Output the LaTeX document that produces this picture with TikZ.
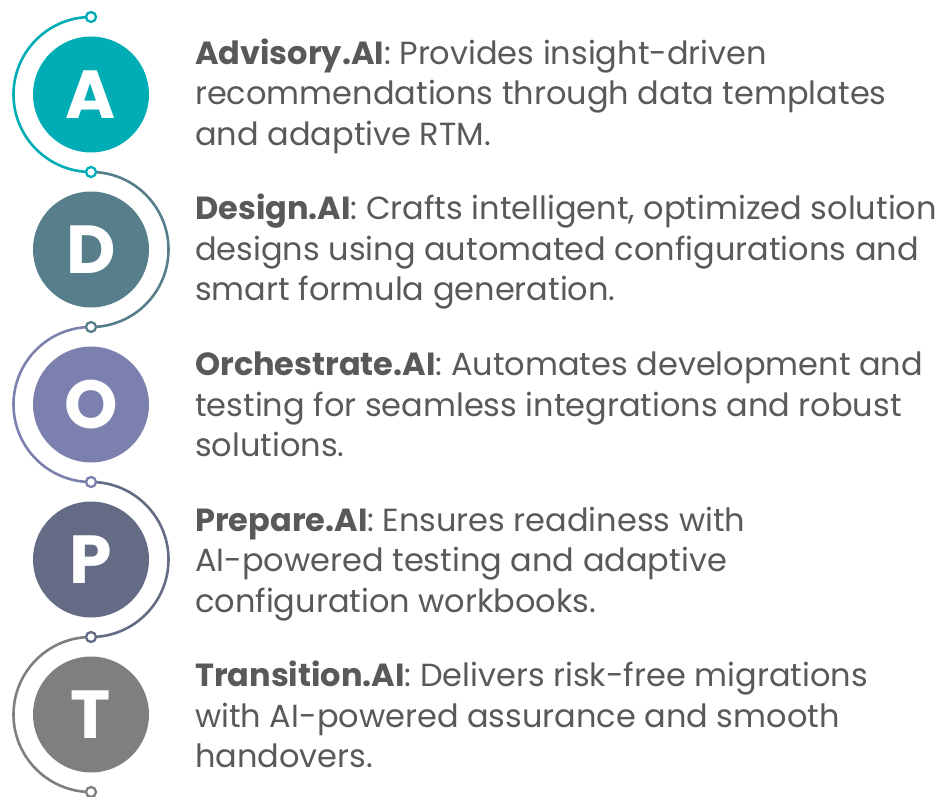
\documentclass[tikz,border=0pt]{standalone}
\usepackage{fontspec}
\setmainfont{Poppins}
\definecolor{cA}{HTML}{00ADB5}
\definecolor{cD}{HTML}{567F8B}
\definecolor{cO}{HTML}{7C80AF}
\definecolor{cP}{HTML}{646B84}
\definecolor{cT}{HTML}{7F7F7F}
\definecolor{body}{HTML}{595959}
\begin{document}
\begin{tikzpicture}[x=1pt,y=1pt,
  disc/.style={circle,minimum size=116pt,inner sep=0pt,text=white,
    font=\fontsize{68}{68}\selectfont\bfseries},
  link/.style={line width=2.6pt},
  knot/.style={circle,draw,fill=white,line width=2.3pt,minimum size=10pt,inner sep=0pt},
  txt/.style={anchor=base west,inner sep=0pt,text=body,font=\fontsize{32}{40}\selectfont}]
\useasboundingbox (0,0) rectangle (939,796);

% letter discs
\node[disc,fill=cA] (A) at (91,701.5) {A};
\node[disc,fill=cD] (D) at (91,546.5) {D};
\node[disc,fill=cO] (O) at (91,391.5) {O};
\node[disc,fill=cP] (P) at (91,236.5) {P};
\node[disc,fill=cT] (T) at (91,81.5) {T};

% joints between the arcs
\coordinate (k0) at (91,779);
\coordinate (k1) at (91,624);
\coordinate (k2) at (91,469);
\coordinate (k3) at (91,314);
\coordinate (k4) at (91,159);
\coordinate (k5) at (91,4);

% alternating half-circle arcs
\draw[link,cA] (k0) arc[start angle=90,end angle=270,radius=77.5];
\draw[link,cD] (k1) arc[start angle=90,end angle=-90,radius=77.5];
\draw[link,cO] (k2) arc[start angle=90,end angle=270,radius=77.5];
\draw[link,cP] (k3) arc[start angle=90,end angle=-90,radius=77.5];
\draw[link,cT] (k4) arc[start angle=90,end angle=270,radius=77.5];

\node[knot,draw=cA] (n0) at (k0) {};
\node[knot,draw=cA] (n1) at (k1) {};
\node[knot,draw=cD] (n2) at (k2) {};
\node[knot,draw=cO] (n3) at (k3) {};
\node[knot,draw=cP] (n4) at (k4) {};
\node[knot,draw=cT] (n5) at (k5) {};

% descriptions
\node[txt] (a1) at (195,731.5) {\textbf{Advisory.AI}: Provides insight-driven};
\node[txt] (a2) at (195,691) {recommendations through data templates};
\node[txt] (a3) at (195,650.5) {and adaptive RTM.};

\node[txt] (d1) at (195,576) {\textbf{Design.AI}: Crafts intelligent, optimized solution};
\node[txt] (d2) at (195,535.5) {designs using automated configurations and};
\node[txt] (d3) at (195,495) {smart formula generation.};

\node[txt] (o1) at (195,420.5) {\textbf{Orchestrate.AI}: Automates development and};
\node[txt] (o2) at (195,380) {testing for seamless integrations and robust};
\node[txt] (o3) at (195,339.5) {solutions.};

\node[txt] (p1) at (195,265) {\textbf{Prepare.AI}: Ensures readiness with};
\node[txt] (p2) at (195,224.5) {AI-powered testing and adaptive};
\node[txt] (p3) at (195,184) {configuration workbooks.};

\node[txt] (t1) at (195,109.5) {\textbf{Transition.AI}: Delivers risk-free migrations};
\node[txt] (t2) at (195,69) {with AI-powered assurance and smooth};
\node[txt] (t3) at (195,28.5) {handovers.};
\end{tikzpicture}
\end{document}
